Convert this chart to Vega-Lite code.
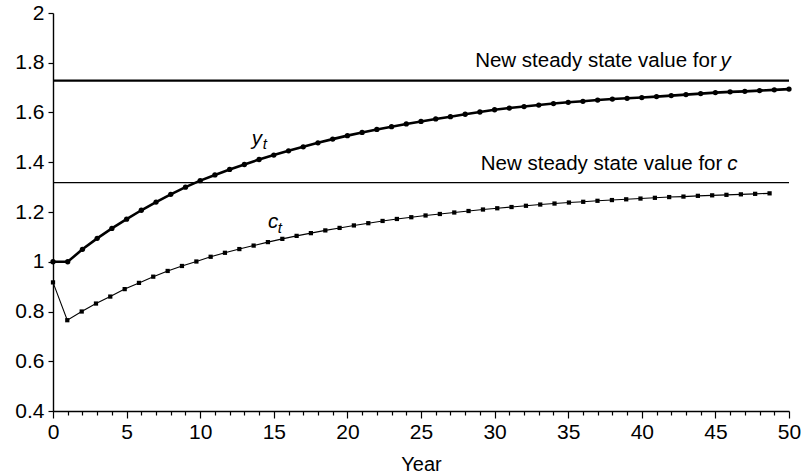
{
  "$schema": "https://vega.github.io/schema/vega-lite/v6.json",
  "width": 736,
  "height": 398,
  "autosize": {"type": "none"},
  "padding": {"left": 53, "top": 13, "right": 17, "bottom": 65},
  "background": "white",
  "config": {
    "view": {"stroke": null},
    "font": "Liberation Sans",
    "axis": {
      "grid": false,
      "domainColor": "black",
      "domainWidth": 1.4,
      "tickColor": "black",
      "tickWidth": 1.2,
      "labelColor": "black",
      "labelFont": "Liberation Sans",
      "labelFontSize": 21,
      "titleFont": "Liberation Sans",
      "titleFontSize": 20,
      "titleFontWeight": "normal",
      "titleColor": "black"
    }
  },
  "datasets": {
    "ypath": [
      {"year": 0, "value": 1.000}, {"year": 1, "value": 1.000}, {"year": 2, "value": 1.050},
      {"year": 3, "value": 1.094}, {"year": 4, "value": 1.134}, {"year": 5, "value": 1.171},
      {"year": 6, "value": 1.207}, {"year": 7, "value": 1.240}, {"year": 8, "value": 1.271},
      {"year": 9, "value": 1.300}, {"year": 10, "value": 1.326}, {"year": 11, "value": 1.349},
      {"year": 12, "value": 1.371}, {"year": 13, "value": 1.391}, {"year": 14, "value": 1.411},
      {"year": 15, "value": 1.429}, {"year": 16, "value": 1.446}, {"year": 17, "value": 1.462},
      {"year": 18, "value": 1.478}, {"year": 19, "value": 1.493}, {"year": 20, "value": 1.507},
      {"year": 21, "value": 1.520}, {"year": 22, "value": 1.532}, {"year": 23, "value": 1.543},
      {"year": 24, "value": 1.554}, {"year": 25, "value": 1.564}, {"year": 26, "value": 1.574},
      {"year": 27, "value": 1.583}, {"year": 28, "value": 1.593}, {"year": 29, "value": 1.602},
      {"year": 30, "value": 1.611}, {"year": 31, "value": 1.618}, {"year": 32, "value": 1.624},
      {"year": 33, "value": 1.630}, {"year": 34, "value": 1.636}, {"year": 35, "value": 1.641},
      {"year": 36, "value": 1.645}, {"year": 37, "value": 1.650}, {"year": 38, "value": 1.654},
      {"year": 39, "value": 1.657}, {"year": 40, "value": 1.660}, {"year": 41, "value": 1.664},
      {"year": 42, "value": 1.668}, {"year": 43, "value": 1.672}, {"year": 44, "value": 1.676},
      {"year": 45, "value": 1.680}, {"year": 46, "value": 1.683}, {"year": 47, "value": 1.685},
      {"year": 48, "value": 1.688}, {"year": 49, "value": 1.691}, {"year": 50, "value": 1.694}
    ],
    "cpath": [
      {"year": 0, "value": 0.917}, {"year": 0.97, "value": 0.765}, {"year": 1.95, "value": 0.800},
      {"year": 2.92, "value": 0.832}, {"year": 3.89, "value": 0.860}, {"year": 4.87, "value": 0.890},
      {"year": 5.84, "value": 0.915}, {"year": 6.81, "value": 0.940}, {"year": 7.79, "value": 0.963},
      {"year": 8.76, "value": 0.983}, {"year": 9.74, "value": 1.001}, {"year": 10.71, "value": 1.020},
      {"year": 11.68, "value": 1.036}, {"year": 12.66, "value": 1.051}, {"year": 13.63, "value": 1.065},
      {"year": 14.60, "value": 1.079}, {"year": 15.58, "value": 1.092}, {"year": 16.55, "value": 1.104},
      {"year": 17.52, "value": 1.115}, {"year": 18.50, "value": 1.126}, {"year": 19.47, "value": 1.136},
      {"year": 20.44, "value": 1.146}, {"year": 21.42, "value": 1.155}, {"year": 22.39, "value": 1.164},
      {"year": 23.36, "value": 1.172}, {"year": 24.34, "value": 1.179}, {"year": 25.31, "value": 1.186},
      {"year": 26.28, "value": 1.192}, {"year": 27.26, "value": 1.198}, {"year": 28.23, "value": 1.204},
      {"year": 29.21, "value": 1.210}, {"year": 30.18, "value": 1.215}, {"year": 31.15, "value": 1.220},
      {"year": 32.13, "value": 1.225}, {"year": 33.10, "value": 1.230}, {"year": 34.07, "value": 1.234},
      {"year": 35.05, "value": 1.238}, {"year": 36.02, "value": 1.241}, {"year": 36.99, "value": 1.245},
      {"year": 37.97, "value": 1.248}, {"year": 38.94, "value": 1.251}, {"year": 39.91, "value": 1.254},
      {"year": 40.89, "value": 1.257}, {"year": 41.86, "value": 1.260}, {"year": 42.83, "value": 1.262},
      {"year": 43.81, "value": 1.265}, {"year": 44.78, "value": 1.267}, {"year": 45.75, "value": 1.269},
      {"year": 46.73, "value": 1.271}, {"year": 47.70, "value": 1.273}, {"year": 48.68, "value": 1.275}
    ]
  },
  "encoding": {
    "x": {
      "field": "year",
      "type": "quantitative",
      "scale": {"domain": [0, 50], "nice": false, "zero": false},
      "axis": {
        "title": "Year",
        "values": [0,1,2,3,4,5,6,7,8,9,10,11,12,13,14,15,16,17,18,19,20,21,22,23,24,25,26,27,28,29,30,31,32,33,34,35,36,37,38,39,40,41,42,43,44,45,46,47,48,49,50],
        "labelExpr": "datum.value % 5 === 0 ? datum.label : ''",
        "tickSize": {"condition": {"test": "datum.value % 5 === 0", "value": 7}, "value": 4},
        "labelPadding": 3,
        "titlePadding": 12,
        "labelFlush": false,
        "labelOverlap": false
      }
    },
    "y": {
      "field": "value",
      "type": "quantitative",
      "scale": {"domain": [0.4, 2], "nice": false, "zero": false},
      "axis": {
        "title": null,
        "values": [0.4, 0.6, 0.8, 1, 1.2, 1.4, 1.6, 1.8, 2],
        "format": "~g",
        "tickSize": 5,
        "labelPadding": 4,
        "labelFlush": false,
        "labelOverlap": false
      }
    }
  },
  "layer": [
    {
      "data": {"values": [{"year": 0, "year_end": 50, "value": 1.728}]},
      "mark": {"type": "rule", "color": "black", "strokeWidth": 2.4},
      "encoding": {"x2": {"field": "year_end"}}
    },
    {
      "data": {"values": [{"year": 0, "year_end": 50, "value": 1.318}]},
      "mark": {"type": "rule", "color": "black", "strokeWidth": 1.1},
      "encoding": {"x2": {"field": "year_end"}}
    },
    {
      "data": {"name": "ypath"},
      "mark": {"type": "line", "color": "black", "strokeWidth": 2.6},
      "encoding": {}
    },
    {
      "data": {"name": "ypath"},
      "mark": {"type": "point", "shape": "circle", "filled": true, "color": "black", "size": 28, "opacity": 1},
      "encoding": {}
    },
    {
      "data": {"name": "cpath"},
      "mark": {"type": "line", "color": "black", "strokeWidth": 1.1},
      "encoding": {}
    },
    {
      "data": {"name": "cpath"},
      "mark": {"type": "point", "shape": "square", "filled": true, "color": "black", "size": 18, "opacity": 1},
      "encoding": {}
    },
    {
      "data": {"values": [
        {"year": 45.09, "value": 1.781, "label": "New steady state value for"},
        {"year": 45.47, "value": 1.370, "label": "New steady state value for"}
      ]},
      "mark": {"type": "text", "align": "right", "baseline": "alphabetic", "fontSize": 20.5, "color": "black", "font": "Liberation Sans"},
      "encoding": {"text": {"field": "label"}}
    },
    {
      "data": {"values": [
        {"year": 45.34, "value": 1.781, "label": "y"},
        {"year": 45.81, "value": 1.370, "label": "c"},
        {"year": 13.5, "value": 1.471, "label": "y"},
        {"year": 14.6, "value": 1.137, "label": "c"}
      ]},
      "mark": {"type": "text", "align": "left", "baseline": "alphabetic", "fontSize": 20.5, "fontStyle": "italic", "color": "black", "font": "Liberation Sans"},
      "encoding": {"text": {"field": "label"}}
    },
    {
      "data": {"values": [
        {"year": 14.25, "value": 1.455, "label": "t"},
        {"year": 15.27, "value": 1.117, "label": "t"}
      ]},
      "mark": {"type": "text", "align": "left", "baseline": "alphabetic", "fontSize": 15, "fontStyle": "italic", "color": "black", "font": "Liberation Sans"},
      "encoding": {"text": {"field": "label"}}
    }
  ]
}
